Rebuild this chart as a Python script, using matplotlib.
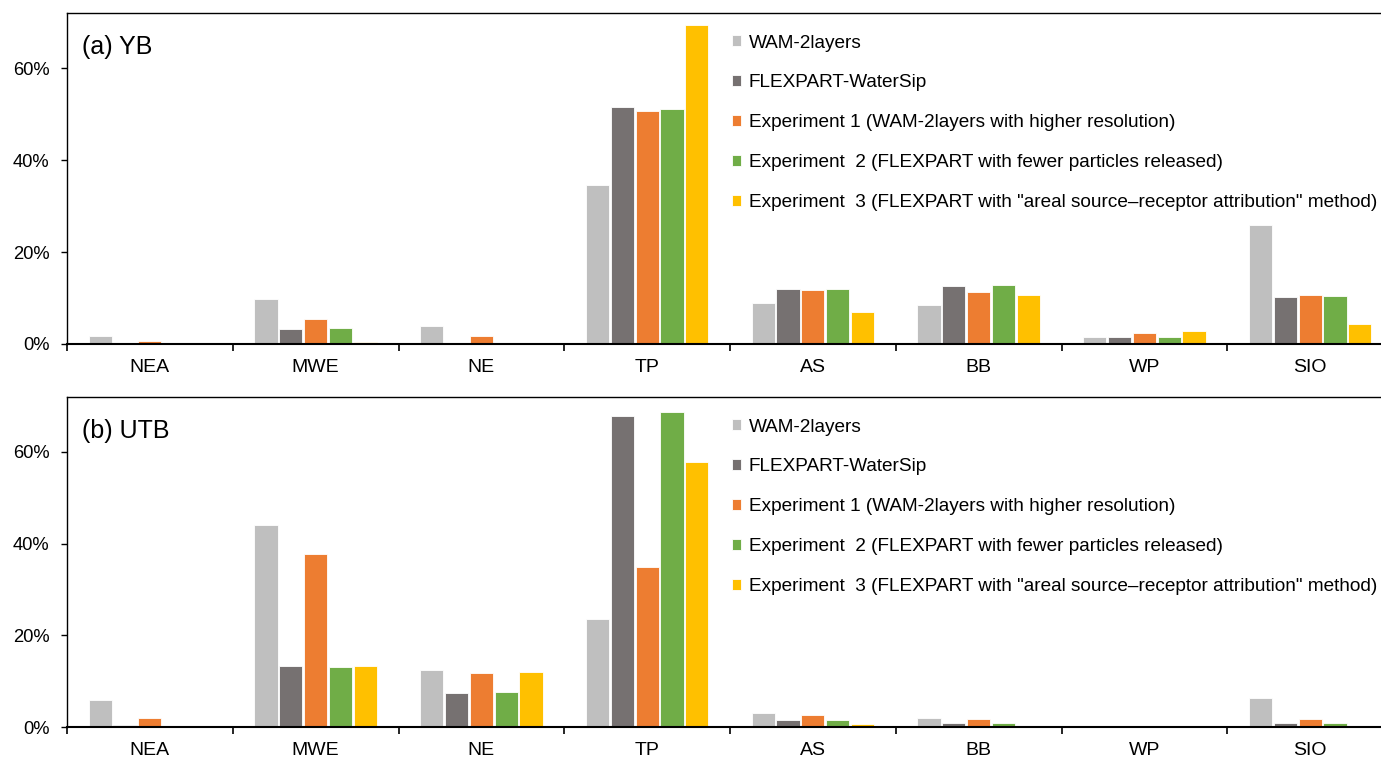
import matplotlib
matplotlib.use("Agg")
import matplotlib.pyplot as plt
import numpy as np
from matplotlib.ticker import FuncFormatter, FixedLocator

plt.rcParams['font.family'] = ['Liberation Sans', 'DejaVu Sans']

categories = ["NEA", "MWE", "NE", "TP", "AS", "BB", "WP", "SIO"]
series_names = [
    "WAM-2layers",
    "FLEXPART-WaterSip",
    "Experiment 1 (WAM-2layers with higher resolution)",
    "Experiment  2 (FLEXPART with fewer particles released)",
    "Experiment  3 (FLEXPART with \"areal source\u2013receptor attribution\" method)",
]
colors = ["#BFBFBF", "#767171", "#ED7D31", "#70AD47", "#FFC000"]

# (a) YB  values in %
yb_wam = [1.7, 9.8, 4.0, 34.6, 9.0, 8.4, 1.6, 25.8]
yb_flex = [0.0, 3.2, 0.3, 51.6, 12.0, 12.6, 1.6, 10.2]
yb_exp1 = [0.65, 5.4, 1.7, 50.7, 11.7, 11.3, 2.5, 10.6]
yb_exp2 = [0.0, 3.5, 0.3, 51.2, 12.0, 12.8, 1.6, 10.4]
yb_exp3 = [0.0, 0.4, 0.0, 69.3, 7.0, 10.6, 2.8, 4.4]

# (b) UTB values in %
utb_wam = [5.9, 44.1, 12.5, 23.5, 3.0, 1.9, 0.0, 6.4]
utb_flex = [0.4, 13.3, 7.5, 67.8, 1.5, 0.9, 0.0, 0.8]
utb_exp1 = [2.0, 37.8, 11.7, 35.0, 2.6, 1.7, 0.0, 1.7]
utb_exp2 = [0.3, 13.0, 7.7, 68.7, 1.5, 0.8, 0.0, 0.8]
utb_exp3 = [0.0, 13.3, 12.0, 57.8, 0.6, 0.3, 0.0, 0.0]

panels = [
    ("(a) YB", [yb_wam, yb_flex, yb_exp1, yb_exp2, yb_exp3]),
    ("(b) UTB", [utb_wam, utb_flex, utb_exp1, utb_exp2, utb_exp3]),
]

W, H = 1381, 759
fig = plt.figure(figsize=(W / 100, H / 100), dpi=100)

left = 67 / W
right = 1393 / W
boxes = [(13, 344), (397, 727)]

x = np.arange(len(categories))
step = 0.15
bw = 0.14

for (title, data), (ytop, ybot) in zip(panels, boxes):
    ax = fig.add_axes([left, 1 - ybot / H, right - left, (ybot - ytop) / H])
    handles = []
    for i, (vals, c, name) in enumerate(zip(data, colors, series_names)):
        b = ax.bar(x + (i - 2) * step, vals, width=bw, color=c,
                   edgecolor="white", linewidth=0.6, label=name)
        handles.append(b)
    ax.set_xlim(-0.5, len(categories) - 0.5)
    ax.set_ylim(0, 72)
    ax.set_yticks([0, 20, 40, 60])
    ax.yaxis.set_major_formatter(FuncFormatter(lambda v, p: f"{int(v)}%"))
    ax.set_xticks(x)
    ax.set_xticklabels(categories)
    ax.xaxis.set_minor_locator(FixedLocator(np.arange(-0.5, len(categories), 1.0)))
    ax.tick_params(axis="x", which="major", length=0, labelsize=14, pad=11)
    ax.tick_params(axis="x", which="minor", length=5, width=1.2, direction="out")
    ax.tick_params(axis="y", length=4, width=1, labelsize=13.2, pad=8.5, colors="black")
    for s in ax.spines.values():
        s.set_linewidth(1.0)
    ax.spines["bottom"].set_linewidth(1.5)
    ax.text(0.011, 0.933, title, transform=ax.transAxes, fontsize=18,
            va="top", ha="left")
    leg = ax.legend(handles=handles, loc="upper left",
                    bbox_to_anchor=((724 - 67) / (1393 - 67), 1 - 14 / (ybot - ytop)),
                    frameon=False, fontsize=13.7, handlelength=0.5,
                    handleheight=0.5, handletextpad=0.4, labelspacing=1.2,
                    borderaxespad=0)

fig.savefig("out.png", dpi=100)
